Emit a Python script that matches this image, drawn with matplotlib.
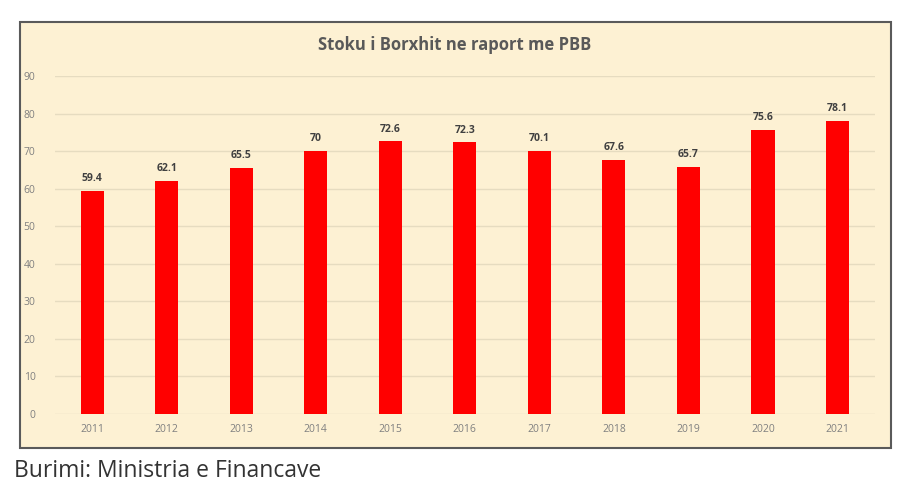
import matplotlib
matplotlib.use("Agg")
from matplotlib import pyplot as plt
from matplotlib.patches import Rectangle

years = ['2011', '2012', '2013', '2014', '2015', '2016', '2017', '2018', '2019', '2020', '2021']
values = [59.4, 62.1, 65.5, 70, 72.6, 72.3, 70.1, 67.6, 65.7, 75.6, 78.1]
labels = ['59.4', '62.1', '65.5', '70', '72.6', '72.3', '70.1', '67.6', '65.7', '75.6', '78.1']

plt.rcParams['font.family'] = ['Open Sans', 'DejaVu Sans']

fig = plt.figure(figsize=(9, 4.98), dpi=100)
fig.patch.set_facecolor('white')

# chart frame
frame = Rectangle((0.022, 0.1), 0.968, 0.856, transform=fig.transFigure,
                  facecolor='#fdf1d3', edgecolor='#5a5a5a', linewidth=1.5, zorder=0)
fig.patches.append(frame)

ax = fig.add_axes([0.061, 0.1687, 0.911, 0.6787])
ax.set_zorder(2)
ax.set_facecolor('none')
x = list(range(len(years)))
ax.bar(x, values, width=0.31, color='#ff0000', zorder=3)
for xi, v, lab in zip(x, values, labels):
    ax.text(xi, v + 1.8, lab, ha='center', va='bottom', fontsize=7.5,
            fontweight='bold', color='#404040')

ax.set_xlim(-0.5, len(years) - 0.5)
ax.set_ylim(0, 90)
ax.set_yticks(range(0, 91, 10))
ax.set_xticks(x)
ax.set_xticklabels(years)
ax.yaxis.grid(True, color='#e6dcc0', linewidth=1, zorder=0)
ax.tick_params(axis='both', length=0, labelsize=7.5, colors='#808080')
ax.tick_params(axis='y', pad=14)
ax.tick_params(axis='x', pad=7)
for s in ax.spines.values():
    s.set_visible(False)

fig.text(0.505, 0.91, 'Stoku i Borxhit ne raport me PBB', ha='center', va='center',
         fontsize=12, fontweight='bold', color='#595959')
fig.text(0.016, 0.055, 'Burimi: Ministria e Financave', ha='left', va='center',
         fontsize=16.5, color='#333333')

fig.savefig('out.png', dpi=100)
